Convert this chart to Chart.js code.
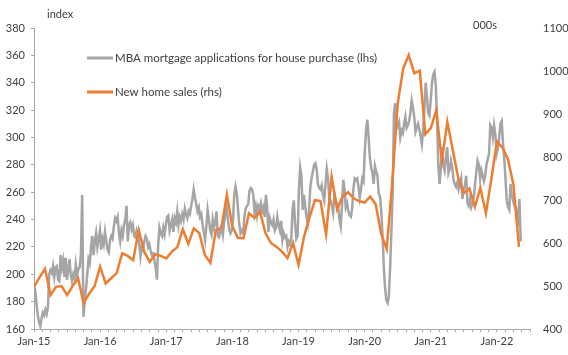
<!DOCTYPE html>
<html>
<head>
<meta charset="utf-8">
<script src="https://cdn.jsdelivr.net/npm/chart.js@4.4.1/dist/chart.umd.min.js"></script>
<style>
html,body{margin:0;padding:0;background:#fff;}
#wrap{width:568px;height:355px;position:relative;}
</style>
</head>
<body>
<div id="wrap"><canvas id="c"></canvas></div>
<script>
// ---- data ----
// MBA purchase index, weekly (lhs), one array per year starting first week of Jan
const mba2015 = [192,188,178,170,165,162,168,172,170,174,171,176,200,203,201,206,198,205,206,196,195,214,205,210,198,212,196,203,211,200,195,200,197,207,199,204,205,214,258,169,180,189,200,211,208,220,228,214,224,230,220,226];
const mba2016 = [232,218,226,222,231,224,218,216,225,228,226,235,241,239,242,230,224,232,228,236,240,250,224,236,238,233,236,228,227,232,229,222,213,220,218,224,228,226,220,222,217,214,215,210,205,196,222,234,230,228,234,229];
const mba2017 = [236,242,243,232,236,240,231,241,238,246,236,242,239,244,240,248,244,241,246,244,250,255,262,256,251,246,249,242,244,236,231,225,235,247,240,232,229,240,234,238,246,228,227,232,235,229,238,244,249,240,233,230];
const mba2018 = [232,240,258,264,259,247,236,230,232,230,242,248,250,251,261,263,262,258,245,250,243,250,248,252,246,249,242,258,248,231,241,238,236,240,232,234,242,236,232,239,225,230,227,228,220,224,222,226,247,254,237,226];
const mba2019 = [228,262,278,272,247,258,250,242,237,246,264,270,275,280,281,277,266,263,262,265,258,254,266,277,270,255,254,250,245,259,254,252,249,240,235,250,269,262,249,252,246,243,242,248,262,270,269,270,264,256,262,270];
const mba2020 = [268,290,305,313,300,285,278,274,266,279,275,272,259,257,246,228,205,190,181,179,184,205,232,260,318,325,310,308,311,300,305,303,310,315,307,309,312,318,327,322,315,304,307,310,306,301,295,305,320,340,330,318];
const mba2021 = [316,327,340,346,348,338,313,280,266,278,293,280,276,285,293,274,277,283,278,269,266,264,267,262,266,270,255,262,265,272,252,250,255,249,252,256,266,275,283,280,270,276,272,268,272,280,284,288,309,307,300,309];
const mba2022 = [302,288,292,300,310,312,296,285,270,254,249,247,266,258,254,250,249,244,240,255,224];

// New home sales, monthly, 000s (rhs), Dec-2014 .. Apr-2022
const newHomeSales = [498,520,540,479,498,500,479,500,518,460,482,500,545,506,518,530,576,570,560,630,580,556,574,570,564,580,590,632,598,634,623,572,554,630,635,712,638,612,611,669,658,673,623,600,591,580,565,600,549,615,660,700,697,620,754,678,708,718,704,697,694,708,690,621,586,740,925,1006,1037,995,1001,853,867,909,790,882,815,750,716,727,684,728,669,750,836,822,795,735,591];

const yearLabels = ['Jan-15','Jan-16','Jan-17','Jan-18','Jan-19','Jan-20','Jan-21','Jan-22'];
const leftTicks = [160,180,200,220,240,260,280,300,320,340,360,380];
const rightTicks = [400,500,600,700,800,900,1000,1100];
const seriesNames = ['MBA mortgage applications for house purchase (lhs)','New home sales (rhs)'];
const axisUnits = ['index','000s'];

// ---- build points (x = months since Jan-15) ----
const mbaWeekly = [].concat(mba2015,mba2016,mba2017,mba2018,mba2019,mba2020,mba2021,mba2022);
const mbaPoints = mbaWeekly.map((v,i)=>({x: i*7/30.4375, y: v}));
const salesPoints = newHomeSales.map((v,i)=>({x: i, y: v}));

const GRAY = '#A5A5A5', ORANGE = '#ED7D31', TEXT = '#404040', AXIS = '#A6A6A6';
const FONT = "Lato, 'Open Sans', sans-serif";
Chart.defaults.font.family = FONT;
Chart.defaults.font.size = 11;
Chart.defaults.color = TEXT;

const overlay = {
  id: 'overlay',
  afterDraw(chart){
    const ctx = chart.ctx;
    ctx.save();
    ctx.fillStyle = TEXT;
    ctx.textBaseline = 'middle';
    ctx.textAlign = 'left';
    ctx.font = '11px ' + FONT;
    ctx.fillText(axisUnits[0], 47, 14);
    ctx.fillText(axisUnits[1], 473, 25);
    ctx.font = '11.5px ' + FONT;
    const rows = [58, 92];
    chart.data.datasets.forEach((ds, i) => {
      const y = rows[i];
      ctx.strokeStyle = ds.borderColor;
      ctx.lineWidth = 3;
      ctx.beginPath(); ctx.moveTo(87, y); ctx.lineTo(113, y); ctx.stroke();
      ctx.fillText(ds.label, 115, y);
    });
    ctx.restore();
  }
};

new Chart(document.getElementById('c'), {
  type: 'line',
  data: {
    datasets: [
      {label: seriesNames[0], data: mbaPoints, yAxisID: 'y', borderColor: GRAY, borderWidth: 2.5, pointRadius: 0, tension: 0, order: 1},
      {label: seriesNames[1], data: salesPoints, yAxisID: 'y1', borderColor: ORANGE, borderWidth: 2.5, pointRadius: 0, tension: 0, order: 0}
    ]
  },
  options: {
    responsive: true, maintainAspectRatio: false, animation: false,
    layout: {padding: {top: 28, left: 0, right: 0, bottom: 0}},
    plugins: {legend: {display: false}, tooltip: {enabled: false}},
    scales: {
      x: {
        type: 'linear', min: 0, max: 90, position: 'bottom',
        afterBuildTicks(s){ const t=[]; for(let v=0; v<=90.001; v+=1.5) t.push({value: v}); s.ticks = t; },
        afterFit(s){ s.height = 26; },
        ticks: {autoSkip: false, maxRotation: 0, padding: 3, color: TEXT,
          callback(v){ const k = v/12; return Math.abs(k-Math.round(k))<1e-6 ? yearLabels[Math.round(k)] : ''; }},
        grid: {drawOnChartArea: false, drawTicks: true, tickLength: 3, color: AXIS},
        border: {color: AXIS}
      },
      y: {
        position: 'left', min: 160, max: 380,
        afterBuildTicks(s){ s.ticks = leftTicks.map(v=>({value:v})); },
        afterFit(s){ s.width = 34; },
        ticks: {padding: 6, color: TEXT, callback(v){ return String(v); }},
        grid: {drawOnChartArea: false, drawTicks: true, tickLength: 3, color: AXIS},
        border: {color: AXIS}
      },
      y1: {
        position: 'right', min: 400, max: 1100,
        afterBuildTicks(s){ s.ticks = rightTicks.map(v=>({value:v})); },
        afterFit(s){ s.width = 38; },
        ticks: {padding: 13, color: TEXT, callback(v){ return String(v); }},
        grid: {display: false, drawTicks: false},
        border: {display: false}
      }
    }
  },
  plugins: [overlay]
});
</script>
</body>
</html>
